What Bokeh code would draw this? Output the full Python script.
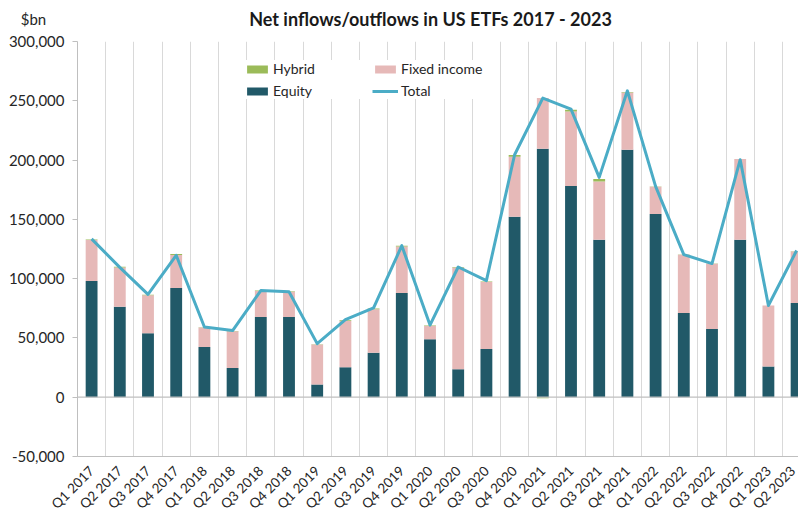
import math
import numpy as np
from bokeh.plotting import figure
from bokeh.models import (Range1d, FixedTicker, NumeralTickFormatter, Legend, LegendItem,
                          Span, Label, ColumnDataSource)
from bokeh.embed import file_html
from bokeh.resources import INLINE

quarters = ["Q1 2017", "Q2 2017", "Q3 2017", "Q4 2017",
            "Q1 2018", "Q2 2018", "Q3 2018", "Q4 2018",
            "Q1 2019", "Q2 2019", "Q3 2019", "Q4 2019",
            "Q1 2020", "Q2 2020", "Q3 2020", "Q4 2020",
            "Q1 2021", "Q2 2021", "Q3 2021", "Q4 2021",
            "Q1 2022", "Q2 2022", "Q3 2022", "Q4 2022",
            "Q1 2023", "Q2 2023"]
equity = [98000, 76200, 53900, 92100,
          42400, 24700, 67700, 67700,
          10700, 25300, 37400, 87900,
          48900, 23600, 40700, 152300,
          209500, 178100, 132900, 208700,
          154500, 71100, 57600, 132900,
          25900, 79500]
fixed_income = [34500, 33300, 32000, 27800,
                16300, 30900, 21900, 21300,
                33700, 39000, 36700, 39300,
                11200, 85900, 56500, 50500,
                42800, 62900, 49100, 48300,
                23000, 49100, 55000, 68000,
                51400, 43300]
hybrid = [600, 500, 500, 800,
          400, 300, 500, 300,
          200, 600, 700, 600,
          300, 400, 300, 1500,
          -800, 1500, 2000, 500,
          300, 100, 100, 100,
          100, 200]
total = [133500, 109500, 86800, 119700,
         59200, 56200, 89900, 89000,
         45200, 65400, 75300, 127800,
         60800, 109800, 98300, 204500,
         252300, 243000, 185400, 258400,
         177800, 120300, 112700, 200300,
         77300, 123700]
y_ticks = [-50000, 0, 50000, 100000, 150000, 200000, 250000, 300000]

C_EQ = "#215968"
C_FI = "#e6b9b8"
C_HY = "#9bbb59"
C_TOT = "#4bacc6"
FONT = "Lato"

x = np.arange(len(quarters))
eq = np.array(equity, dtype=float)
fi = np.array(fixed_income, dtype=float)
hy = np.array(hybrid, dtype=float)
hy_bottom = np.where(hy >= 0, eq + fi, hy)
hy_top = np.where(hy >= 0, eq + fi + hy, 0)

src = ColumnDataSource(dict(x=x, eq=eq, fi_b=eq, fi_t=eq + fi,
                            hy_b=hy_bottom, hy_t=hy_top, tot=total))

W, H = 798, 520
LEFT, TOP, BOTTOM = 77, 41, 63
cat_px = 28.2
frame_w = W - LEFT

p = figure(width=W, height=H, output_backend="svg", toolbar_location=None,
           x_range=Range1d(-0.5, -0.5 + frame_w / cat_px),
           y_range=Range1d(-50000, 300000),
           min_border_left=LEFT, min_border_top=TOP, min_border_bottom=BOTTOM,
           min_border_right=0, background_fill_color="white",
           border_fill_color="white")
p.outline_line_color = None

# grids
p.xgrid.ticker = FixedTicker(ticks=list(x[:-1] + 0.5) + [len(quarters) - 0.5])
p.xgrid.grid_line_color = "#d9d9d9"
p.xgrid.grid_line_width = 1
p.ygrid.ticker = FixedTicker(ticks=[y_ticks[0], y_ticks[-1]])
p.ygrid.grid_line_color = "#d9d9d9"

# bars
bw = 0.42
r_eq = p.vbar(x="x", bottom=0, top="eq", width=bw, source=src, fill_color=C_EQ, line_color=None)
r_fi = p.vbar(x="x", bottom="fi_b", top="fi_t", width=bw, source=src, fill_color=C_FI, line_color=None)
r_hy = p.vbar(x="x", bottom="hy_b", top="hy_t", width=bw, source=src, fill_color=C_HY, line_color=None)

p.add_layout(Span(location=0, dimension="width", line_color="#bfbfbf", line_width=1.3))

r_tot = p.line(x="x", y="tot", source=src, line_color=C_TOT, line_width=3, line_join="round")

# axes
yax = p.yaxis[0]
yax.ticker = FixedTicker(ticks=y_ticks)
yax.formatter = NumeralTickFormatter(format="0,0")
yax.axis_line_color = "#bfbfbf"
yax.major_tick_line_color = "#bfbfbf"
yax.major_tick_out = 5
yax.major_tick_in = 0
yax.minor_tick_line_color = None
yax.major_label_text_font = FONT
yax.major_label_text_font_size = "15px"
yax.major_label_text_color = "#262626"
yax.major_label_standoff = 8

xax = p.xaxis[0]
xax.ticker = FixedTicker(ticks=list(x))
xax.major_label_overrides = {int(i): q for i, q in zip(x, quarters)}
xax.major_label_orientation = math.pi / 4
xax.axis_line_color = "#bfbfbf"
xax.major_tick_line_color = None
xax.minor_tick_line_color = None
xax.major_label_text_font = FONT
xax.major_label_text_font_size = "13.5px"
xax.major_label_text_color = "#262626"
xax.major_label_standoff = 6

# legend
legend = Legend(items=[LegendItem(label="Hybrid", renderers=[r_hy]),
                       LegendItem(label="Equity", renderers=[r_eq]),
                       LegendItem(label="Fixed income", renderers=[r_fi]),
                       LegendItem(label="Total", renderers=[r_tot])],
                orientation="vertical", ncols=2,
                location=(167, 357), glyph_width=26, glyph_height=10,
                label_standoff=3, label_width=94, label_height=17, spacing=5,
                padding=6, margin=0, border_line_color=None,
                background_fill_color="white", background_fill_alpha=1,
                label_text_font=FONT, label_text_font_size="14px",
                label_text_color="#262626")
p.add_layout(legend, "center")

# unit label (closest to the frame) and title (outer), both in the top panel
p.add_layout(Label(x=33 - LEFT, y=TOP - 18, x_units="screen", y_units="screen",
                   text="$bn", text_align="center", text_baseline="middle",
                   text_font=FONT, text_font_size="15px", text_color="#262626"), "above")
p.add_layout(Label(x=430 - LEFT, y=5, x_units="screen", y_units="screen",
                   text="Net inflows/outflows in US ETFs 2017 - 2023", text_align="center",
                   text_baseline="middle", text_font=FONT, text_font_style="bold",
                   text_font_size="18px", text_color="#1a1a1a"), "above")

open("out.html", "w").write(file_html(p, INLINE))
